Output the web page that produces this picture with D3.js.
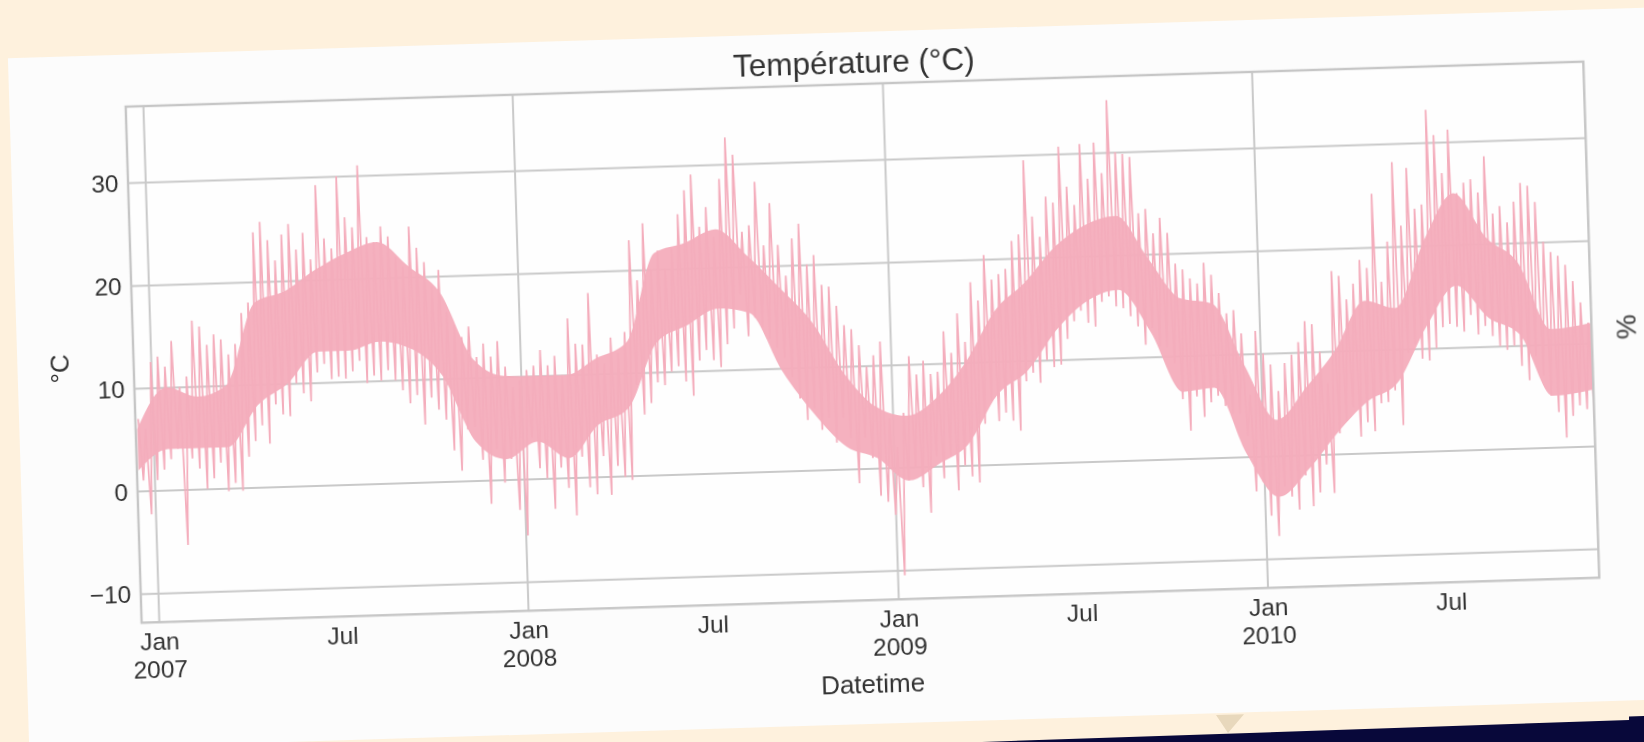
<!DOCTYPE html>
<html>
<head>
<meta charset="utf-8">
<script src="https://cdn.jsdelivr.net/npm/d3@7/dist/d3.min.js"></script>
<style>
  html, body { margin: 0; padding: 0; background: #fef1dd; }
  svg { display: block; }
</style>
</head>
<body>
<script>
// ---------------- DATA ----------------
const seriesStart = Date.UTC(2006, 11, 16, 17, 24); // first week of the series
const xDomain = [Date.UTC(2006, 11, 15, 0, 0), Date.UTC(2010, 10, 24, 23, 0)];
const yDomain = [-12.82, 37.40];

// weekly highest / lowest readings
// Dec 2006 - Dec 2007 (weeks 0-53)
const high2007 = [7,6,12.5,13,12,14.5,10,11,16.4,15.8,14,15,14.5,13,14,17,18,24.8,25.8,24,22,24.5,25.5,23,24.6,22,29.2,24,23,30,26,25,31,24,23.5,25,24,22,21,24.9,22.8,21.4,19,20.6,16.5,15.2,14,15,12,13.3,12,13.5,11,9];
const low2007  = [1,-2.3,1,2,3,4,-5.4,3,2,0,1,2.5,-0.3,0.5,-0.3,3,4.5,6,4.2,8,7,6.8,10,9,8.2,11,11.8,10.3,10.5,10.3,11,12,9.8,10.5,10,11,10,9,7.7,8.5,5.6,8.2,7,6,3,1,5,5.2,2,-2.3,3,-0.3,2,-3];
// 2008 (weeks 54-106)
const high2008 = [9.6,10.6,11,12.5,11,11.9,10,15.5,13,12.9,17.9,11.9,11,13.5,12,14,22.9,19,24.5,20,21.8,20,22,25.3,27.6,29.1,24,25.9,23,28.6,32.6,30.9,23.4,24,28.2,22,26.1,22,19,22.6,24,20,20.9,18,17.8,15.9,14,13.6,12,9.9,11,12.3,4.8];
const low2008  = [-5.5,4,1,0,-3,1,-1,-3.7,2,-1,-1.7,2,-1.8,1,-0.1,-0.4,8.8,5.9,7,9,8.7,10,10.5,9,7.6,11,12,11,10.3,12.5,14,17.3,13.2,15,14,12.9,12,11,9.1,7,4.9,6,3.9,5,2.6,5,3,-1.4,3,1,-2.7,-3.3,-4.6];
// 2009 (weeks 107-157)
const high2009 = [2,5.3,10.8,9,10.3,9,9.2,13.1,11,14.8,12,17.8,16,20.4,18,18.5,19,21.7,22.3,29.5,24,22,25.9,25.3,30.7,26.8,25,30.9,27.5,31,28,35.1,30,29.8,29.5,24,24.4,22,23.5,22,19,18.4,17.5,17,19,17.8,16,14,14.3,12,6];
const low2009  = [-10.5,-1.3,0,-2,-4.5,1,-1.2,1,-2.4,0,-1.1,-1.7,4,6.2,4.2,5,4.2,3.2,8,8.8,7.8,10,9.3,9.5,12,13.7,14.7,13.5,13.1,15.5,16,15,14.8,14,13,11.2,12.8,11,10.9,9.3,5.8,2.7,6,4,5.4,6,5,4.2,4.2,2,-3.4];
// 2010 (weeks 158-205)
const high2010 = [12.2,10,8.9,6.3,9,9.8,11,13,12.7,10,6.9,17.8,17.3,15,16.5,18.8,18,25.2,16.6,20.5,28.2,22,27.6,23.6,24,33.2,30.7,27,31.2,25,26,26.3,25,28.5,22.9,23.6,22,24,25.8,25.5,23.9,20,19,18.6,17.7,16.1,14,12];
const low2010  = [-2.5,-5.8,-7.8,-3,-4,-5.3,-2,-5,-3.7,-1,-3.8,2,3.2,4.5,1.6,3,2.1,4.8,4.9,6,2.6,9.6,10.4,9,8.8,10,12,12.3,12,11.5,13.1,11.2,12,11,10,9.6,10,8,6.6,8.9,7,5,3.4,0.9,3,4,3.6,2.8];

// monthly dense core of the trace (Dec 2006 ... Nov 2010)
const coreDates = ["2006-12-16",
  "2007-01-15","2007-02-15","2007-03-15","2007-04-15","2007-05-15","2007-06-15","2007-07-15","2007-08-15","2007-09-15","2007-10-15","2007-11-15","2007-12-15",
  "2008-01-15","2008-02-15","2008-03-15","2008-04-15","2008-05-15","2008-06-15","2008-07-15","2008-08-15","2008-09-15","2008-10-15","2008-11-15","2008-12-15",
  "2009-01-15","2009-02-15","2009-03-15","2009-04-15","2009-05-15","2009-06-15","2009-07-15","2009-08-15","2009-09-15","2009-10-15","2009-11-15","2009-12-15",
  "2010-01-15","2010-02-15","2010-03-15","2010-04-15","2010-05-15","2010-06-15","2010-07-15","2010-08-15","2010-09-15","2010-10-15","2010-11-24"];
const coreHigh = [6,
  10,9,10,18,19,21,22.5,23.5,21,18.4,11.8,10.1,
  10,10,11.5,13,21.6,22.5,23.7,21,17.8,14.5,9.3,6,
  5,6.8,10,15,17.6,21,23,23.8,19.5,15.6,15,9,
  3.5,6.7,10,14.8,14,20.6,25,20.6,18,11.5,12];
const coreLow = [2,
  4,4,4,8,10,13,13,13.8,13,10.3,3.8,2,
  3.6,1.9,5,6.6,12.9,14.5,16,15.5,9.7,5.5,2.2,1,
  -1.3,0.3,2,6.8,9,13,15.6,16.6,12.4,6.5,6.8,0.3,
  -4,-1.3,2,5,6.7,12.2,16,12.8,11,5,5.5];

const yTicks = [-10, 0, 10, 20, 30];
const xTickDates = [Date.UTC(2007,0,1), Date.UTC(2007,6,1), Date.UTC(2008,0,1), Date.UTC(2008,6,1),
                    Date.UTC(2009,0,1), Date.UTC(2009,6,1), Date.UTC(2010,0,1), Date.UTC(2010,6,1)];
const xTickLabels = ["Jan\n2007","Jul","Jan\n2008","Jul","Jan\n2009","Jul","Jan\n2010","Jul"];
const xGridDates = [Date.UTC(2007,0,1), Date.UTC(2008,0,1), Date.UTC(2009,0,1), Date.UTC(2010,0,1)];

const titleText = "Température (°C)";
const xLabelText = "Datetime";
const yLabelText = "°C";
const y2LabelText = "%";

// ---------------- BUILD ----------------
const W = 1644, H = 742;
const DAY = 86400000;
const FONT = "'Liberation Sans', Arial, Helvetica, sans-serif";
const TXT = "#333333";
const PINK = "#f4adbc";

const blocks = [[high2007, low2007], [high2008, low2008], [high2009, low2009], [high2010, low2010]];
const points = [];
let week = 0;
blocks.forEach(([hi, lo]) => {
  hi.forEach((h, i) => {
    const t0 = seriesStart + week * 7 * DAY;
    points.push({t: new Date(t0 + 1.0 * DAY), v: h});
    points.push({t: new Date(t0 + 4.5 * DAY), v: lo[i]});
    week++;
  });
});
const core = coreDates.map((d, i) => ({t: new Date(d + "T12:00:00Z"), hi: coreHigh[i], lo: coreLow[i]}));

const svg = d3.select("body").append("svg").attr("width", W).attr("height", H);
const defs = svg.append("defs");
defs.append("filter").attr("id", "soft").attr("x", "-2%").attr("y", "-2%").attr("width", "104%").attr("height", "104%")
  .append("feGaussianBlur").attr("stdDeviation", 0.45);

svg.append("rect").attr("width", W).attr("height", H).attr("fill", "#fef1dd");

// dark band bottom right
svg.append("polygon").attr("points", "982,742 1629,720 1629,716.5 1644,716 1644,742").attr("fill", "#08083a");
// small pointer triangle
svg.append("polygon").attr("points", "1216,715 1244,714.2 1228,733").attr("fill", "#e8d8bc");

// paper sheet
const ANG = -1.77;
svg.append("g").attr("transform", `translate(7.9,58.3) rotate(${ANG})`)
  .append("rect").attr("width", 1720).attr("height", 692).attr("fill", "#fcfcfc");

const pw = 1458.3, ph = 516.3;
const g = svg.append("g").attr("transform", `translate(125.7,106.7) rotate(${ANG})`).attr("filter", "url(#soft)");

const x = d3.scaleUtc().domain(xDomain).range([0, pw]);
const y = d3.scaleLinear().domain(yDomain).range([ph, 0]);

g.append("rect").attr("width", pw).attr("height", ph).attr("fill", "#fefefe");

// grid
const gridY = g.append("g").call(d3.axisLeft(y).tickValues(yTicks).tickSize(-pw).tickFormat(""));
const gridX = g.append("g").attr("transform", `translate(0,${ph})`)
  .call(d3.axisBottom(x).tickValues(xGridDates).tickSize(-ph).tickFormat(""));
[gridY, gridX].forEach(s => {
  s.select(".domain").remove();
  s.selectAll(".tick line").attr("stroke", "#c9c9c9").attr("stroke-width", 2);
});

// trace
g.append("clipPath").attr("id", "clip").append("rect").attr("width", pw).attr("height", ph);
const plot = g.append("g").attr("clip-path", "url(#clip)");
plot.append("path").datum(core)
  .attr("fill", PINK).attr("fill-opacity", 0.95)
  .attr("d", d3.area().curve(d3.curveMonotoneX).x(d => x(d.t)).y0(d => y(d.lo)).y1(d => y(d.hi)));
plot.append("path").datum(points)
  .attr("fill", "none")
  .attr("stroke", PINK)
  .attr("stroke-width", 1.7)
  .attr("d", d3.line().x(d => x(d.t)).y(d => y(d.v)));

// frame
g.append("rect").attr("width", pw).attr("height", ph).attr("fill", "none")
  .attr("stroke", "#c6c6c6").attr("stroke-width", 2.4);

// y axis labels
const ay = g.append("g").call(d3.axisLeft(y).tickValues(yTicks).tickSize(0).tickPadding(9.5).tickFormat(d3.format("d")));
ay.select(".domain").remove();
ay.selectAll(".tick text").attr("font-family", FONT).attr("font-size", 24.5).attr("fill", TXT).attr("dy", "0.35em");

// x axis labels
const ax = g.append("g").attr("transform", `translate(0,${ph})`)
  .call(d3.axisBottom(x).tickValues(xTickDates).tickSize(0).tickFormat((d, i) => xTickLabels[i]));
ax.select(".domain").remove();
ax.selectAll(".tick text").each(function(d, i) {
  const t = d3.select(this);
  const lines = xTickLabels[i].split("\n");
  t.text(null).attr("dy", null).attr("y", null)
   .attr("font-family", FONT).attr("font-size", 24.5).attr("fill", TXT).attr("text-anchor", "middle");
  lines.forEach((l, j) => t.append("tspan").attr("x", 0).attr("y", 27.8 + j * 27.6).text(l));
});

// title & labels
g.append("text").attr("x", pw / 2).attr("y", -21.9).attr("dy", "0.36em")
  .attr("text-anchor", "middle").attr("font-family", FONT).attr("font-size", 31.5).attr("fill", TXT).text(titleText);
g.append("text").attr("x", pw / 2).attr("y", 599.7).attr("dy", "0.36em")
  .attr("text-anchor", "middle").attr("font-family", FONT).attr("font-size", 26).attr("fill", TXT).text(xLabelText);
g.append("text").attr("transform", `translate(-74,260) rotate(-90)`).attr("dy", "0.36em")
  .attr("text-anchor", "middle").attr("font-family", FONT).attr("font-size", 26).attr("fill", TXT).text(yLabelText);
g.append("text").attr("transform", `translate(1492.5,266.4) rotate(-90)`).attr("dy", "0.36em")
  .attr("text-anchor", "middle").attr("font-family", FONT).attr("font-size", 28).attr("fill", TXT).text(y2LabelText);
</script>
</body>
</html>
